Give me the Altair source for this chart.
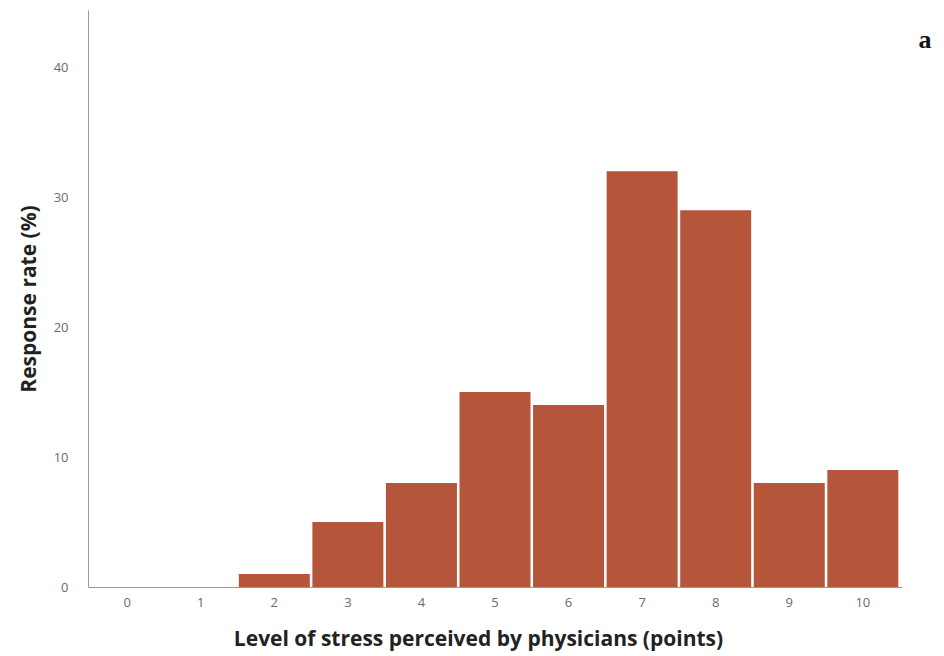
import altair as alt
import pandas as pd

levels = ["0", "1", "2", "3", "4", "5", "6", "7", "8", "9", "10"]
rates = [0, 0, 1, 5, 8, 15, 14, 32, 29, 8, 9]

df = pd.DataFrame({"level": levels, "rate": rates})

bars = alt.Chart(df).mark_bar(color="#b5553a").encode(
    x=alt.X("level:N", sort=levels,
            scale=alt.Scale(paddingInner=0.035, paddingOuter=0.05),
            axis=alt.Axis(title="Level of stress perceived by physicians (points)",
                          labelAngle=0, ticks=False, labelPadding=9,
                          labelFontSize=13, labelColor="#6a6a6a",
                          titleFontSize=21, titleFontWeight="bold", titleColor="#222222",
                          titlePadding=19, titleX=390, titleAlign="center",
                          domainColor="#999999")),
    y=alt.Y("rate:Q", scale=alt.Scale(domain=[0, 44.4], nice=False),
            axis=alt.Axis(title="Response rate (%)", values=[0, 10, 20, 30, 40],
                          ticks=False, grid=False, labelPadding=20,
                          labelFontSize=13, labelColor="#6a6a6a",
                          titleFontSize=21, titleFontWeight="bold", titleColor="#222222",
                          titlePadding=14, domainColor="#999999")),
)

label = alt.Chart(pd.DataFrame({"t": ["a"]})).mark_text(
    font="Liberation Serif", fontSize=26, fontWeight="bold", color="#111111",
    align="center", baseline="middle"
).encode(text="t:N", x=alt.value(837), y=alt.value(30))

chart = (bars + label).properties(
    width=814, height=577,
    autosize=alt.AutoSizeParams(type="none"),
    padding={"left": 80, "top": 2, "right": 30, "bottom": 70},
).configure_view(stroke=None).configure_axis(
    labelFont="Open Sans", titleFont="Open Sans", grid=False
)

chart.save("out.html", embed_options={"renderer": "svg", "actions": False})
